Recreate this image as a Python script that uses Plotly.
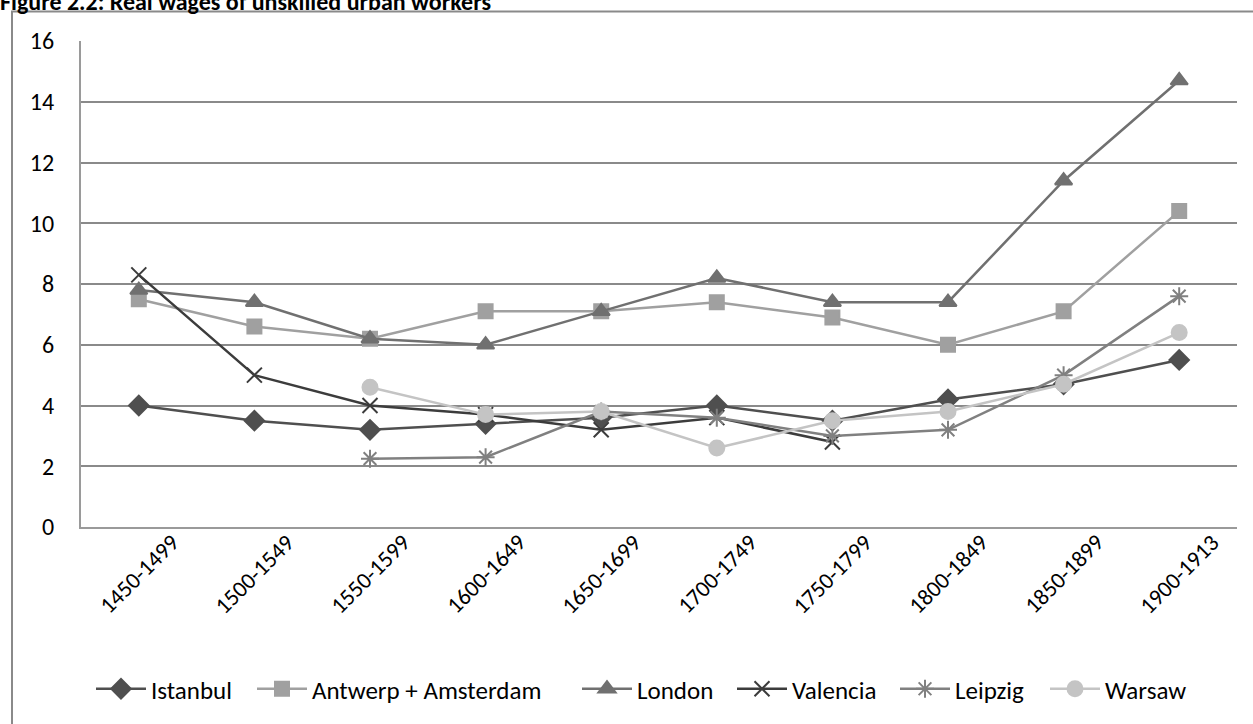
import plotly.graph_objects as go

periods = ["1450-1499", "1500-1549", "1550-1599", "1600-1649", "1650-1699",
           "1700-1749", "1750-1799", "1800-1849", "1850-1899", "1900-1913"]

istanbul = [4.0, 3.5, 3.2, 3.4, 3.6, 4.0, 3.5, 4.2, 4.7, 5.5]
antwerp_amsterdam = [7.5, 6.6, 6.2, 7.1, 7.1, 7.4, 6.9, 6.0, 7.1, 10.4]
london = [7.8, 7.4, 6.2, 6.0, 7.1, 8.2, 7.4, 7.4, 11.4, 14.7]
valencia = [8.3, 5.0, 4.0, 3.7, 3.2, 3.6, 2.8, None, None, None]
leipzig = [None, None, 2.25, 2.3, 3.8, 3.6, 3.0, 3.2, 5.0, 7.6]
warsaw = [None, None, 4.6, 3.7, 3.8, 2.6, 3.5, 3.8, 4.7, 6.4]

y_ticks = [0, 2, 4, 6, 8, 10, 12, 14, 16]

FONT = "Carlito, Lato, sans-serif"

W, H = 1253, 724
L, R, T, B = 81, 16, 41, 197
pw, ph = W - L - R, H - T - B


def px_x(x):
    return (x - L) / pw


def px_y(y):
    return (H - B - y) / ph


# name, values, colour, marker symbol, marker size, legend left edge (px)
series = [
    ("Istanbul", istanbul, "#4f4f4f", "diamond", 15, 91),
    ("Antwerp + Amsterdam", antwerp_amsterdam, "#a0a0a0", "square", 14, 252),
    ("London", london, "#707070", "triangle-up", 15, 577),
    ("Valencia", valencia, "#3c3c3c", "x-thin-open", 15, 732),
    ("Leipzig", leipzig, "#808080", "asterisk-open", 15, 895),
    ("Warsaw", warsaw, "#c4c4c4", "circle", 15, 1045),
]

fig = go.Figure()
legends = {}
for i, (name, vals, color, symbol, size, lx) in enumerate(series):
    key = "legend" if i == 0 else f"legend{i + 1}"
    fig.add_trace(go.Scatter(
        x=periods, y=vals, name=name, mode="lines+markers",
        line=dict(color=color, width=2.5),
        marker=dict(symbol=symbol, size=size, color=color,
                    line=dict(color=color, width=2)),
        connectgaps=False, legend=key,
    ))
    legends[key] = dict(
        orientation="h", x=px_x(lx), xanchor="left", y=px_y(689),
        yanchor="middle", font=dict(family=FONT, size=25, color="#000000"),
        itemwidth=50, bgcolor="rgba(0,0,0,0)",
    )

fig.update_layout(
    width=W, height=H,
    margin=dict(l=L, r=R, t=T, b=B),
    paper_bgcolor="white", plot_bgcolor="white",
    font=dict(family=FONT, size=22, color="#000000"),
    showlegend=True,
    xaxis=dict(
        type="category", range=[-0.5, 9.5],
        showgrid=False, showline=True, linecolor="#9a9a9a", linewidth=2,
        ticks="", showticklabels=False,
    ),
    yaxis=dict(
        range=[0, 16], tickvals=y_ticks, showgrid=True,
        gridcolor="#8a8a8a", gridwidth=1.6, zeroline=False,
        showline=True, linecolor="#9a9a9a", linewidth=2,
        ticks="", ticklabelstandoff=20, tickfont=dict(size=24),
    ),
    **legends,
)

# rotated category labels centred under each category
for p in periods:
    fig.add_annotation(
        text=p, x=p, xref="x", yref="paper", y=px_y(574),
        xanchor="center", yanchor="middle", textangle=-45, showarrow=False,
        font=dict(family=FONT, size=23, color="#000000"),
    )

# outer frame around the whole chart
fig.add_shape(type="rect", xref="paper", yref="paper",
              x0=px_x(12), x1=px_x(1260), y0=px_y(740), y1=px_y(11.5),
              line=dict(color="#8a8a8a", width=2), fillcolor="rgba(0,0,0,0)",
              layer="below")

fig.add_annotation(
    text="<b>Figure 2.2: Real wages of unskilled urban workers</b>",
    xref="paper", yref="paper", x=px_x(-2), y=px_y(18), xanchor="left",
    yanchor="bottom", showarrow=False,
    font=dict(family=FONT, size=24, color="#000000"),
)

fig.write_html("out.html")
